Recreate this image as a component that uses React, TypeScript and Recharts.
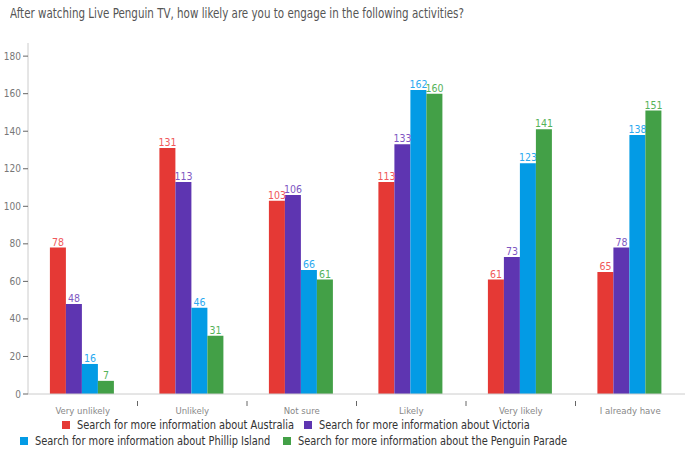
import React from "react";
import { Bar, BarChart, XAxis, YAxis, LabelList } from "recharts";

// answer categories
const categories = ["Very unlikely", "Unlikely", "Not sure", "Likely", "Very likely", "I already have"];

// responses per activity
const australia = [78, 131, 103, 113, 61, 65];
const victoria = [48, 113, 106, 133, 73, 78];
const phillipIsland = [16, 46, 66, 162, 123, 138];
const penguinParade = [7, 31, 61, 160, 141, 151];

const yTicks = [0, 20, 40, 60, 80, 100, 120, 140, 160, 180];

const series = [
  { key: "australia", name: "Search for more information about Australia", color: "#e53935", label: "#f0595a" },
  { key: "victoria", name: "Search for more information about Victoria", color: "#5e35b1", label: "#7e57c2" },
  { key: "phillip", name: "Search for more information about Phillip Island", color: "#039be5", label: "#29a9f0" },
  { key: "parade", name: "Search for more information about the Penguin Parade", color: "#43a047", label: "#55b35a" },
];

const data = categories.map((name, i) => ({
  name,
  australia: australia[i],
  victoria: victoria[i],
  phillip: phillipIsland[i],
  parade: penguinParade[i],
}));

const FONT = "'DejaVu Sans Condensed', 'Liberation Sans', Arial, sans-serif";
const W = 685;
const H = 450;
const Y_AXIS_W = 28;
const BAND = (W - Y_AXIS_W) / categories.length;

// legend item placement (two rows, like the original)
const legendPos = [
  { left: 62, top: 418 },
  { left: 304, top: 418 },
  { left: 20, top: 434 },
  { left: 283, top: 434 },
];

const CategoryTick = (props: any) => {
  const { x, y, payload, index } = props;
  return (
    <g>
      {index > 0 && (
        <line x1={x - BAND / 2} x2={x - BAND / 2} y1={y - 1} y2={y + 4} stroke="#666" strokeWidth={1} />
      )}
      <text x={x} y={y + 12} textAnchor="middle" fill="#888" fontSize={9.5} fontFamily={FONT}>
        {payload.value}
      </text>
    </g>
  );
};

const App = () => {
  return (
    <div style={{ position: "absolute", left: 0, top: 0, width: W, height: H, background: "#fff" }}>
      <div
        style={{
          position: "absolute",
          left: 10,
          top: 5,
          fontFamily: FONT,
          fontSize: 13.5,
          color: "#555",
          whiteSpace: "nowrap",
          transform: "scaleX(0.85)",
          transformOrigin: "left top",
        }}
      >
        After watching Live Penguin TV, how likely are you to engage in the following activities?
      </div>
      <BarChart
        width={W}
        height={H}
        data={data}
        margin={{ top: 43, right: 0, left: 0, bottom: 36 }}
        barCategoryGap="20%"
        barGap={0}
      >
        <XAxis
          dataKey="name"
          height={20}
          stroke="#ccc"
          tickLine={false}
          interval={0}
          tick={<CategoryTick />}
        />
        <YAxis
          width={Y_AXIS_W}
          domain={[0, 187]}
          ticks={yTicks}
          stroke="#ccc"
          tickSize={5}
          tickLine={{ stroke: "#666" }}
          tickMargin={2}
          tick={{ fill: "#777", fontSize: 10, fontFamily: FONT }}
        />
        {series.map((s) => (
          <Bar key={s.key} dataKey={s.key} name={s.name} fill={s.color} isAnimationActive={false}>
            <LabelList
              dataKey={s.key}
              position="top"
              offset={2}
              fill={s.label}
              fontSize={10.5}
              fontFamily={FONT}
            />
          </Bar>
        ))}
      </BarChart>
      {series.map((s, i) => (
        <div
          key={s.key}
          style={{
            position: "absolute",
            left: legendPos[i].left,
            top: legendPos[i].top,
            display: "flex",
            alignItems: "center",
            whiteSpace: "nowrap",
            fontFamily: FONT,
            fontSize: 12.5,
            color: "#333",
            lineHeight: "14px",
          }}
        >
          <span style={{ width: 8, height: 8, background: s.color, marginRight: 7, display: "inline-block" }} />
          <span style={{ display: "inline-block", transform: "scaleX(0.875)", transformOrigin: "left center" }}>
            {s.name}
          </span>
        </div>
      ))}
    </div>
  );
};

export default App;
